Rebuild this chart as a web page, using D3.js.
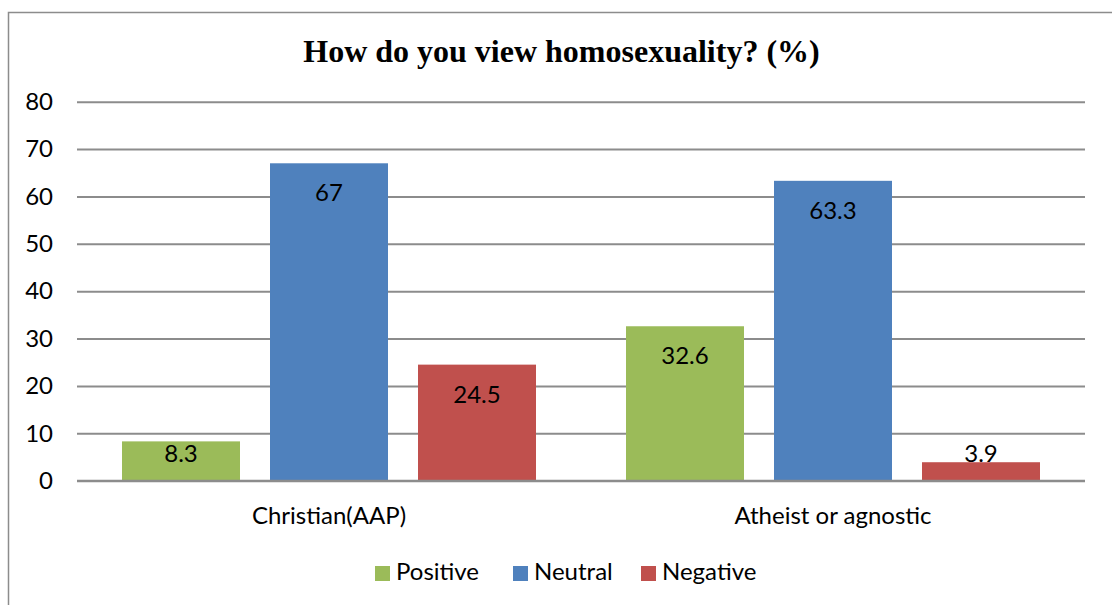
<!DOCTYPE html>
<html>
<head>
<meta charset="utf-8">
<script src="https://cdn.jsdelivr.net/npm/d3@7/dist/d3.min.js"></script>
<style>
  html, body { margin: 0; padding: 0; background: #fff; }
  svg { display: block; }
</style>
</head>
<body>
<svg id="chart" width="1112" height="605"></svg>
<script>
// Survey data: share of respondents by view, per group (%)
const categories = ["Christian(AAP)", "Atheist or agnostic"];
const series = ["Positive", "Neutral", "Negative"];
const positive = [8.3, 32.6];
const neutral = [67, 63.3];
const negative = [24.5, 3.9];
const yTicks = [0, 10, 20, 30, 40, 50, 60, 70, 80];
const colors = ["#9BBB59", "#4F81BD", "#C0504D"];

const values = [positive, neutral, negative];
const rows = categories.map((c, i) => ({
  category: c,
  items: series.map((s, j) => ({ series: s, value: values[j][i], color: colors[j] }))
}));

const svg = d3.select("#chart");
const font = "Lato, 'Open Sans', sans-serif";
const plot = { left: 77, right: 1085, top: 101.7, bottom: 480.7 };

// Chart frame
svg.append("rect")
  .attr("x", 8.5).attr("y", 12.5)
  .attr("width", 1200).attr("height", 700)
  .attr("fill", "none").attr("stroke", "#8c8c8c").attr("stroke-width", 1.5);

// Title
svg.append("text")
  .attr("x", 561.5).attr("y", 62)
  .attr("text-anchor", "middle")
  .attr("font-family", "'Liberation Serif', 'Times New Roman', serif")
  .attr("font-weight", "bold")
  .attr("font-size", 32)
  .attr("fill", "#000")
  .text("How do you view homosexuality? (%)");

const y = d3.scaleLinear().domain([0, 80]).range([plot.bottom, plot.top]);
const x0 = d3.scaleBand().domain(categories).range([plot.left, plot.right]).padding(0);
const x1 = d3.scaleBand().domain(series).range([0, x0.bandwidth()])
  .paddingInner(30 / 148).paddingOuter(45 / 148);

// Horizontal gridlines and value axis labels
const yAxis = d3.axisLeft(y).tickValues(yTicks)
  .tickSize(-(plot.right - plot.left)).tickPadding(24).tickFormat(d3.format("d"));
const gy = svg.append("g").attr("transform", `translate(${plot.left},0)`).call(yAxis);
gy.select(".domain").remove();
gy.selectAll(".tick line").attr("stroke", "#8c8c8c").attr("stroke-width", 2);
gy.selectAll(".tick text")
  .attr("font-family", font).attr("font-size", 24).attr("fill", "#000");

// Bars
const groups = svg.append("g").selectAll("g").data(rows).join("g")
  .attr("transform", d => `translate(${x0(d.category)},0)`);

groups.selectAll("rect").data(d => d.items).join("rect")
  .attr("x", d => x1(d.series))
  .attr("y", d => y(d.value))
  .attr("width", x1.bandwidth())
  .attr("height", d => y(0) - y(d.value))
  .attr("fill", d => d.color);

// Value labels, inside the top of each bar
groups.selectAll("text").data(d => d.items).join("text")
  .attr("x", d => x1(d.series) + x1.bandwidth() / 2)
  .attr("y", d => Math.min(y(d.value) + 38, y(0) - 19))
  .attr("text-anchor", "middle")
  .attr("font-family", font).attr("font-size", 24).attr("fill", "#000")
  .text(d => d.value);

// Baseline
svg.append("line")
  .attr("x1", plot.left).attr("x2", plot.right)
  .attr("y1", y(0)).attr("y2", y(0))
  .attr("stroke", "#8c8c8c").attr("stroke-width", 2);

// Category axis labels
const xAxis = d3.axisBottom(x0).tickSize(0).tickPadding(26);
const gx = svg.append("g").attr("transform", `translate(0,${plot.bottom})`).call(xAxis);
gx.select(".domain").remove();
gx.selectAll(".tick text")
  .attr("font-family", font).attr("font-size", 24).attr("fill", "#000");

// Legend
const legendX = [375, 513, 641];
const legend = svg.append("g").selectAll("g").data(series).join("g")
  .attr("transform", (d, i) => `translate(${legendX[i]},566)`);
legend.append("rect")
  .attr("width", 15).attr("height", 15)
  .attr("fill", (d, i) => colors[i]);
legend.append("text")
  .attr("x", 21).attr("y", 14)
  .attr("font-family", font).attr("font-size", 24).attr("fill", "#000")
  .text(d => d);
</script>
</body>
</html>
